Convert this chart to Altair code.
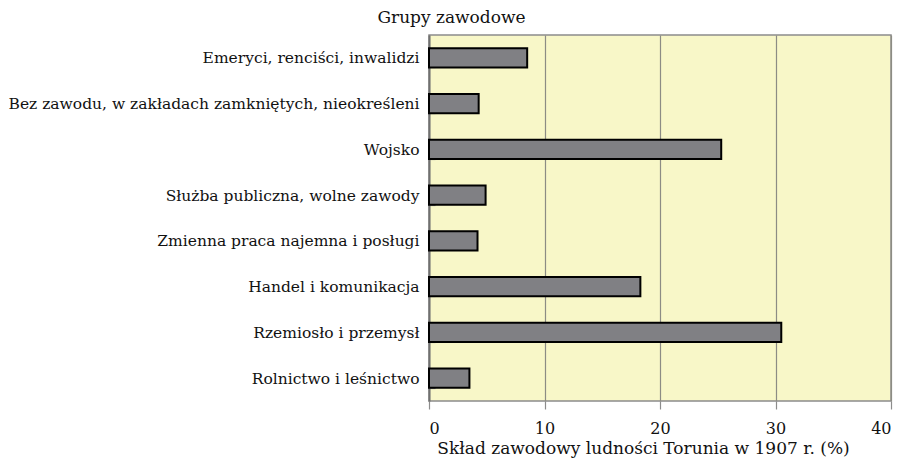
import altair as alt
import pandas as pd

categories = [
    "Emeryci, renciści, inwalidzi",
    "Bez zawodu, w zakładach zamkniętych, nieokreśleni",
    "Wojsko",
    "Służba publiczna, wolne zawody",
    "Zmienna praca najemna i posługi",
    "Handel i komunikacja",
    "Rzemiosło i przemysł",
    "Rolnictwo i leśnictwo",
]
values = [8.5, 4.3, 25.3, 4.9, 4.2, 18.3, 30.5, 3.5]

df = pd.DataFrame({"grupa": categories, "udzial": values})

FONT = "DejaVu Serif"

chart = alt.Chart(df).mark_bar(
    color="#808084", stroke="#000000", strokeWidth=2
).encode(
    x=alt.X(
        "udzial:Q",
        scale=alt.Scale(domain=[0, 40], nice=False),
        axis=alt.Axis(
            values=[0, 10, 20, 30, 40],
            title="Skład zawodowy ludności Torunia w 1907 r. (%)",
            grid=True,
            gridColor="#8c8c84",
            gridWidth=1.2,
            tickColor="#8c8c8c",
            tickSize=8,
            tickWidth=1.2,
            domain=False,
            labelPadding=11,
            labelFontSize=16,
            titlePadding=4,
            titleFontSize=17,
            titleX=214,
            titleAlign="center",
            labelFont=FONT,
            titleFont=FONT,
        ),
    ),
    y=alt.Y(
        "grupa:N",
        sort=categories,
        scale=alt.Scale(paddingInner=0.58, paddingOuter=0.29),
        axis=alt.Axis(
            title="Grupy zawodowe",
            titleAngle=0,
            titleAlign="center",
            titleBaseline="alphabetic",
            titleX=22,
            titleY=-13,
            titleFontSize=17,
            ticks=False,
            grid=True,
            tickBand="extent",
            gridDash=[6, 2000],
            gridColor="#8c8c8c",
            gridWidth=1.2,
            domainColor="#707070",
            domainWidth=2,
            labelPadding=10,
            labelFontSize=15.5,
            labelFont=FONT,
            titleFont=FONT,
        ),
    ),
).properties(
    width=462,
    height=366,
    autosize=alt.AutoSizeParams(type="none"),
    padding={"left": 421, "top": 27, "right": 2, "bottom": 63},
).configure_view(
    fill="#f8f7c8", stroke="#8c8c8c", strokeWidth=1.5
).configure_axis(
    labelColor="#111111",
    titleColor="#111111",
    titleFontWeight="normal",
    labelLimit=600,
)

chart.save("out.html", embed_options={"renderer": "svg", "actions": False})
